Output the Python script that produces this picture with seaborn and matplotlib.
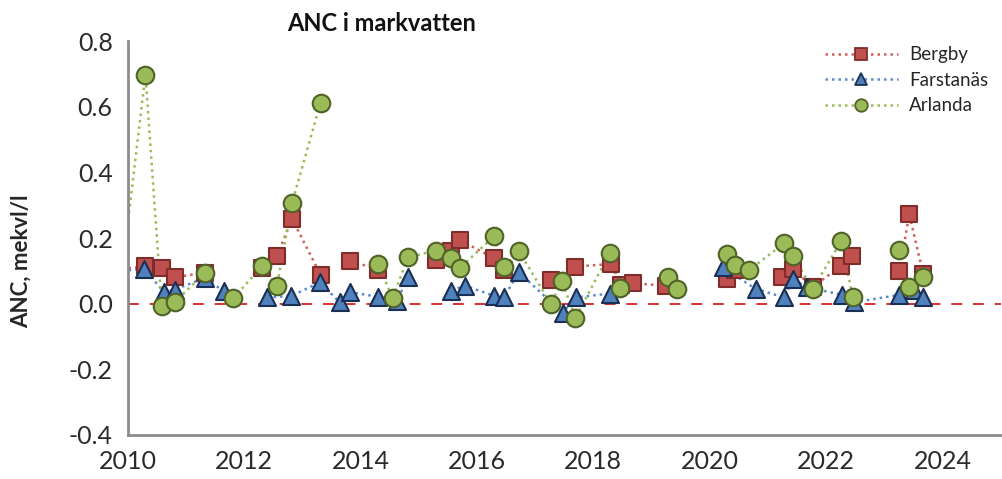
import matplotlib
matplotlib.use("Agg")
import matplotlib.pyplot as plt
from matplotlib.lines import Line2D
import seaborn as sns
import numpy as np
import pandas as pd

nan = np.nan

# sampling dates (decimal years) and ANC values, nan = gap in the line
bergby_x = [2009.90, 2010.29, 2010.58, 2010.80, 2011.32, 2011.80, 2012.30, 2012.56, 2012.82,
            2013.31, 2013.60, 2013.82, 2014.29, 2014.80, 2015.29, 2015.56, 2015.70, 2016.29,
            2016.47, 2016.90, 2017.27, 2017.69, 2018.30, 2018.47, 2018.68, 2019.24, 2019.80,
            2020.29, 2020.43, 2020.80, 2021.25, 2021.43, 2021.77, 2022.26, 2022.44, 2022.80,
            2023.26, 2023.43, 2023.67]
bergby_y = [0.105, 0.114, 0.108, 0.080, 0.095, nan, 0.108, 0.145, 0.259,
            0.088, nan, 0.131, 0.104, nan, 0.134, 0.160, 0.194, 0.139,
            0.104, nan, 0.072, 0.113, 0.121, 0.057, 0.062, 0.055, nan,
            0.075, 0.104, nan, 0.082, 0.106, 0.050, 0.116, 0.144, nan,
            0.099, 0.272, 0.091]

farst_x = [2009.90, 2010.28, 2010.62, 2010.80, 2011.32, 2011.65, 2012.00, 2012.39, 2012.81,
           2013.30, 2013.64, 2013.82, 2014.30, 2014.63, 2014.81, 2015.20, 2015.56, 2015.79,
           2016.29, 2016.46, 2016.72, 2017.47, 2017.70, 2018.28, 2019.20, 2020.22, 2020.79,
           2021.28, 2021.43, 2021.67, 2022.28, 2022.48, 2023.26, 2023.51, 2023.67]
farst_y = [0.100, 0.106, 0.035, 0.043, 0.078, 0.038, nan, 0.019, 0.024,
           0.065, 0.004, 0.035, 0.021, 0.009, 0.082, nan, 0.040, 0.055,
           0.024, 0.019, 0.096, -0.028, 0.019, 0.031, nan, 0.111, 0.045,
           0.019, 0.075, 0.050, 0.027, 0.004, 0.027, 0.042, 0.019]

arl_x = [2009.90, 2010.30, 2010.58, 2010.80, 2011.32, 2011.60, 2011.81, 2012.30, 2012.56,
         2012.82, 2013.31, 2013.80, 2014.30, 2014.55, 2014.81, 2015.29, 2015.56, 2015.70,
         2016.29, 2016.47, 2016.72, 2017.27, 2017.46, 2017.69, 2018.28, 2018.46, 2018.90,
         2019.28, 2019.44, 2019.90, 2020.29, 2020.43, 2020.68, 2021.28, 2021.43, 2021.77,
         2022.26, 2022.46, 2022.90, 2023.26, 2023.43, 2023.67]
arl_y = [0.100, 0.698, -0.008, 0.004, 0.094, nan, 0.016, 0.114, 0.053,
         0.307, 0.612, nan, 0.121, 0.016, 0.141, 0.162, 0.139, 0.108,
         0.205, 0.111, 0.160, -0.001, 0.070, -0.044, 0.154, 0.048, nan,
         0.082, 0.045, nan, 0.150, 0.119, 0.103, 0.184, 0.144, 0.045,
         0.190, 0.019, nan, 0.164, 0.052, 0.080]

stations = ["Bergby", "Farstanäs", "Arlanda"]
year_ticks = [2010, 2012, 2014, 2016, 2018, 2020, 2022, 2024]
anc_ticks = [-0.4, -0.2, 0.0, 0.2, 0.4, 0.6, 0.8]

frames = []
for name, xs, ys in zip(stations, [bergby_x, farst_x, arl_x], [bergby_y, farst_y, arl_y]):
    d = pd.DataFrame({"year": xs, "anc": ys, "station": name})
    d["seg"] = d["anc"].isna().cumsum()
    frames.append(d)
df = pd.concat(frames, ignore_index=True)
# markers only inside the plotted period
pts = df.dropna(subset=["anc"])
pts = pts[pts["year"] >= 2010]

line_col = {"Bergby": "#D0605C", "Farstanäs": "#5A8ACB", "Arlanda": "#9BBB59"}
face_col = {"Bergby": "#C0504D", "Farstanäs": "#4F81BD", "Arlanda": "#9BBB59"}
edge_col = {"Bergby": "#7F2D2B", "Farstanäs": "#1B2F55", "Arlanda": "#4F6228"}
mark = {"Bergby": "s", "Farstanäs": "^", "Arlanda": "o"}
msize = {"Bergby": 140, "Farstanäs": 150, "Arlanda": 160}

sns.set_style("white")
plt.rcParams["font.family"] = ["Lato", "DejaVu Sans"]

fig = plt.figure(figsize=(10.03, 4.79), dpi=100)
ax = fig.add_axes([0.1276, 0.092, 0.87, 0.822])

ax.axhline(0, color="#D62020", lw=1.3, ls=(0, (6, 6)), zorder=1)

for name in stations:
    sub = df[df["station"] == name]
    sns.lineplot(data=sub, x="year", y="anc", units="seg", estimator=None, sort=False,
                 color=line_col[name], lw=1.8, ls=(0, (1, 1.6)), ax=ax, zorder=2)
for name in stations:
    sub = pts[pts["station"] == name]
    sns.scatterplot(data=sub, x="year", y="anc", marker=mark[name], s=msize[name],
                    color=face_col[name], edgecolor=edge_col[name], linewidth=1.5,
                    ax=ax, zorder=3)

ax.set_xlim(2010, 2025)
ax.set_ylim(-0.4, 0.8)
ax.set_xticks(year_ticks)
ax.set_yticks(anc_ticks)
ax.set_yticklabels([f"{v:.1f}" for v in anc_ticks])
ax.set_xlabel("")
ax.set_ylabel("ANC, mekvl/l", fontsize=16, fontweight="bold")
ax.yaxis.set_label_coords(-0.11, 0.44)

for s in ["top", "right"]:
    ax.spines[s].set_visible(False)
for s in ["left", "bottom"]:
    ax.spines[s].set_color("#8C8C8C")
    ax.spines[s].set_linewidth(2)
ax.tick_params(axis="both", direction="out", length=6, width=1.5, color="#8C8C8C",
               labelsize=18, labelcolor="#2A2A2A", pad=5)

handles = [Line2D([], [], color=line_col[n], ls=(0, (1, 1.6)), lw=1.8, marker=mark[n],
                  markersize=9, markerfacecolor=face_col[n], markeredgecolor=edge_col[n],
                  markeredgewidth=1.3) for n in stations]
ax.legend(handles, stations, loc="upper right", bbox_to_anchor=(1.005, 1.03), frameon=False,
          fontsize=13.5, handlelength=3.9, labelspacing=0.45, handletextpad=0.6)

fig.text(0.38, 0.95, "ANC i markvatten", fontsize=17, fontweight="bold",
         ha="center", va="center", color="#111111")

fig.savefig("out.png", dpi=100)
